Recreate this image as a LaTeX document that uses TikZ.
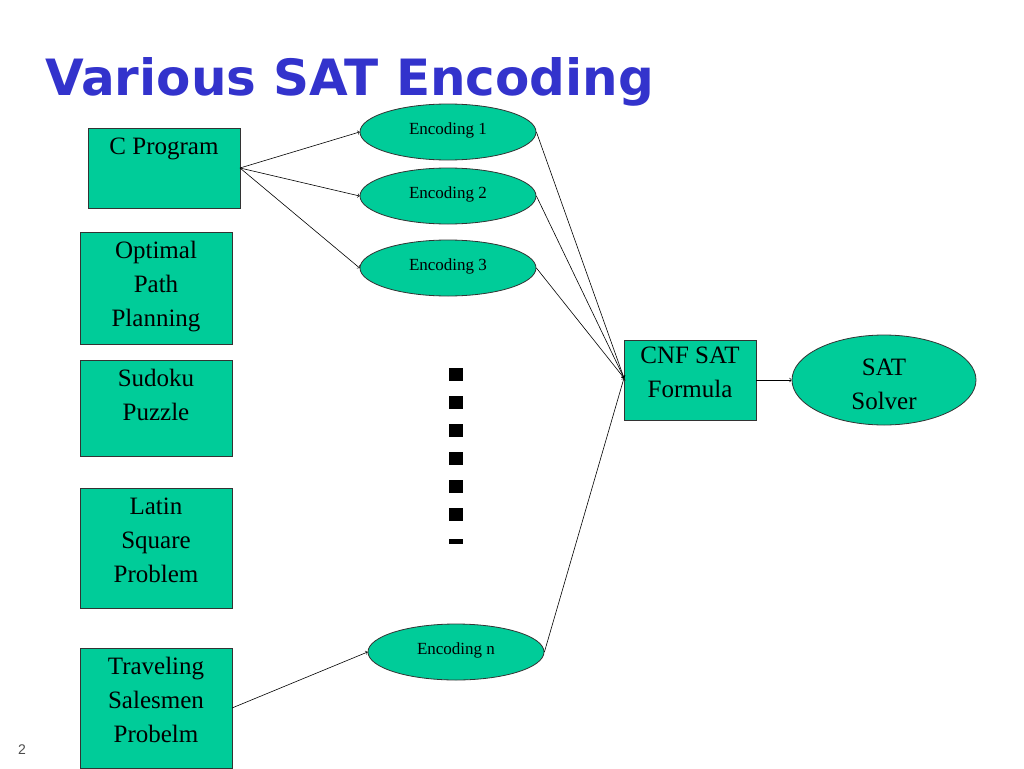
\documentclass[tikz,border=0pt]{standalone}
\usepackage{fontspec}
\setmainfont{Liberation Serif}
\newfontfamily\titlefont{DejaVu Sans}
\newfontfamily\numfont{Liberation Sans}
\usetikzlibrary{shapes.geometric}
\definecolor{boxgreen}{HTML}{00CC99}
\definecolor{titleblue}{HTML}{3333CC}
\begin{document}
\begin{tikzpicture}[x=1pt,y=-1pt,
  box/.style={draw=black!80,fill=boxgreen,line width=0.8pt},
  ell/.style={draw=black!80,fill=boxgreen,line width=0.8pt,ellipse,inner sep=0pt},
  lab/.style={font=\fontsize{25}{34}\selectfont,align=center,anchor=north},
  elab/.style={font=\fontsize{17}{20}\selectfont},
  arr/.style={->,line width=0.6pt}]
\useasboundingbox (0,0) rectangle (1024,768);
\node[anchor=base west,text=titleblue,font=\titlefont\bfseries\fontsize{50}{56}\selectfont,inner sep=0] (title) at (45,95) {Various SAT Encoding};
\draw[box] (88,128) rectangle (240,208); \node[lab] (cp) at (164,134) {C Program};
\draw[box] (80,232) rectangle (232,344); \node[lab] (op) at (156,238) {Optimal\\Path\\Planning};
\draw[box] (80,360) rectangle (232,456); \node[lab] (su) at (156,366) {Sudoku\\Puzzle};
\draw[box] (80,488) rectangle (232,608); \node[lab] (ls) at (156,494) {Latin\\Square\\Problem};
\draw[box] (80,648) rectangle (232,768); \node[lab] (ts) at (156,654) {Traveling\\Salesmen\\Probelm};
\draw[box] (624,340) rectangle (756,420); \node[lab] (cnf) at (690,343) {CNF SAT\\Formula};
\node[ell,minimum width=176,minimum height=56] (e1) at (448,132) {};
\node[elab] at (448,130) {Encoding 1};
\node[ell,minimum width=176,minimum height=56] (e2) at (448,196) {};
\node[elab] at (448,194) {Encoding 2};
\node[ell,minimum width=176,minimum height=56] (e3) at (448,268) {};
\node[elab] at (448,266) {Encoding 3};
\node[ell,minimum width=176,minimum height=56] (en) at (456,652) {};
\node[elab] at (456,650) {Encoding n};
\node[ell,minimum width=184,minimum height=90] (sat) at (884,380) {};
\node[lab] (satl) at (884,355) {SAT\\Solver};
\coordinate (cpo) at (240,168);
\coordinate (cnfi) at (624,378);
\coordinate (cnfo) at (756,380);
\coordinate (tso) at (232,708);
\draw[arr] (cpo) -- (e1.west);
\draw[arr] (cpo) -- (e2.west);
\draw[arr] (cpo) -- (e3.west);
\draw[arr] (e1.east) -- (cnfi);
\draw[arr] (e2.east) -- (cnfi);
\draw[arr] (e3.east) -- (cnfi);
\draw[arr] (en.east) -- (cnfi);
\draw[arr] (tso) -- (en.west);
\draw[arr] (cnfo) -- (sat.west);
\foreach \y in {368,396,424,452,480,508} \fill (449,\y) rectangle (463,\y+13);
\fill (449,539) rectangle (463,544);
\node[font=\numfont\fontsize{14}{16}\selectfont,text=black!70] (pg) at (22,750) {2};
\end{tikzpicture}
\end{document}
